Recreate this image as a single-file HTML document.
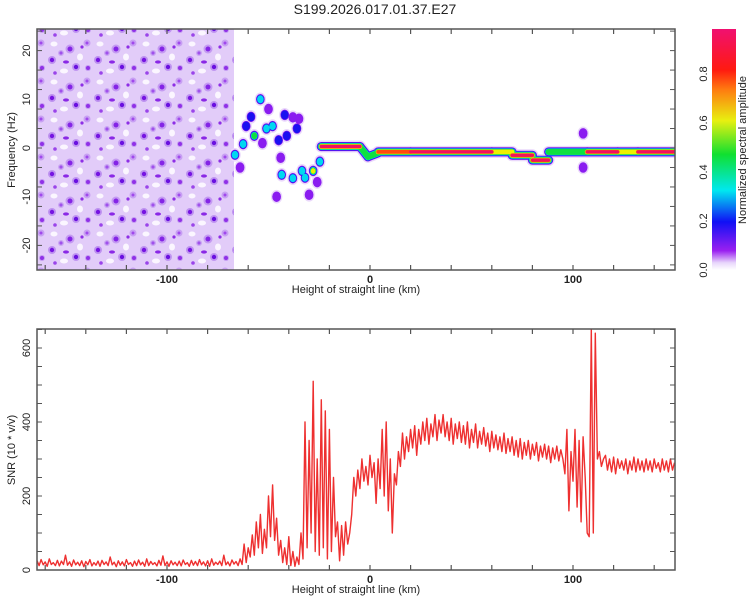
<!DOCTYPE html>
<html><head><meta charset="utf-8"><style>
body{margin:0;background:#fff;}
svg{display:block;font-family:"Liberation Sans",sans-serif;}
</style></head><body>
<svg id="chart" width="750" height="600" viewBox="0 0 750 600">
<defs>
<clipPath id="clipTop"><rect x="37" y="29" width="638" height="241"/></clipPath>
<clipPath id="clipBot"><rect x="37" y="329" width="638" height="241"/></clipPath>
<linearGradient id="cbar" x1="0" y1="1" x2="0" y2="0">
<stop offset="0" stop-color="#ffffff"/>
<stop offset="0.03" stop-color="#e8d6fb"/>
<stop offset="0.08" stop-color="#9a20f0"/>
<stop offset="0.2" stop-color="#1010f5"/>
<stop offset="0.33" stop-color="#00e8f0"/>
<stop offset="0.48" stop-color="#10e030"/>
<stop offset="0.62" stop-color="#e8f010"/>
<stop offset="0.75" stop-color="#ff7a10"/>
<stop offset="0.83" stop-color="#ff1a10"/>
<stop offset="1" stop-color="#f01070"/>
</linearGradient>
<pattern id="noise" width="46" height="38" patternUnits="userSpaceOnUse">
<rect width="46" height="38" fill="#e2ccf9"/>
<ellipse cx="8" cy="6" rx="3.5" ry="2.5" fill="#fbf6ff"/>
<ellipse cx="34" cy="19" rx="3" ry="3.5" fill="#fbf6ff"/>
<ellipse cx="18" cy="33" rx="4" ry="2.5" fill="#fbf6ff"/>
<circle cx="24" cy="11" r="4.5" fill="#c49af2"/>
<circle cx="6" cy="22" r="4" fill="#be92f0"/>
<circle cx="41" cy="5" r="3.5" fill="#c8a0f3"/>
<circle cx="30" cy="29" r="4" fill="#c096f1"/>
<circle cx="42" cy="30" r="3" fill="#c49cf2"/>
<circle cx="15" cy="15" r="3" fill="#caa6f3"/>
<circle cx="24" cy="11" r="2.5" fill="#8424e6"/>
<circle cx="6" cy="22" r="2.2" fill="#7614e2"/>
<circle cx="42" cy="30" r="2" fill="#9030e8"/>
<circle cx="15" cy="15" r="1.6" fill="#a050ec"/>
<circle cx="36" cy="9" r="1.6" fill="#8e2ee6"/>
<circle cx="30" cy="29" r="2.2" fill="#6a10e0"/>
<circle cx="9" cy="35" r="1.8" fill="#9a44ea"/>
<ellipse cx="20" cy="24" rx="3" ry="1.6" fill="#8a28e6"/>
<circle cx="41" cy="5" r="1.5" fill="#a048ec"/>
</pattern>
</defs>

<text x="375" y="14" font-size="14" text-anchor="middle" fill="#222">S199.2026.017.01.37.E27</text>

<g id="top">
<g clip-path="url(#clipTop)">
<rect x="37" y="29" width="197" height="241" fill="url(#noise)"/>
<g id="heat"></g>
</g>
<rect x="37" y="29" width="638" height="241" fill="none" stroke="#555" stroke-width="1.5"/>
<g id="topTicks"></g>
<text x="356" y="293" font-size="11" text-anchor="middle" fill="#222">Height of straight line (km)</text>
<text transform="translate(15,150) rotate(-90)" font-size="11" text-anchor="middle" fill="#222">Frequency (Hz)</text>
</g>

<g id="colorbar">
<rect x="712" y="29" width="24" height="241" fill="url(#cbar)"/>
<g id="cbTicks"></g>
<text transform="translate(746,150) rotate(-90)" font-size="11" text-anchor="middle" fill="#222">Normalized spectral amplitude</text>
</g>

<g id="bot">
<g clip-path="url(#clipBot)"><polyline id="snrLine" fill="none" stroke="#ee3030" stroke-width="1.4" stroke-linejoin="round"/></g>
<rect x="37" y="329" width="638" height="241" fill="none" stroke="#555" stroke-width="1.5"/>
<g id="botTicks"></g>
<text x="356" y="593" font-size="11" text-anchor="middle" fill="#222">Height of straight line (km)</text>
<text transform="translate(15,450) rotate(-90)" font-size="11" text-anchor="middle" fill="#222">SNR (10 * v/v)</text>
</g>
</svg>
<script>
const NS="http://www.w3.org/2000/svg";
const xTicks=[-100,0,100];
const freqTicks=[-20,-10,0,10,20];
const snrTicks=[0,200,400,600];
const cbTicks=[0.0,0.2,0.4,0.6,0.8];
const snrStartKm=-164;
const snrValues=[25,12,28,14,22,10,30,15,20,12,
26,11,24,15,40,13,22,10,27,14,
21,12,25,9,23,14,28,11,20,13,
24,10,26,15,22,12,35,14,21,9,
25,13,22,11,28,15,20,10,24,12,
27,14,21,10,30,12,23,15,20,11,
26,13,38,12,22,10,25,14,21,12,
24,11,27,15,20,10,26,13,23,12,
28,14,22,11,25,10,30,13,21,15,
24,12,40,14,22,11,27,16,23,12,
30,15,70,20,60,35,95,40,130,60,
150,45,110,60,200,90,230,80,140,40,
80,20,60,15,90,12,50,10,35,15,
100,30,400,60,350,100,510,50,300,40,
460,60,430,30,380,50,250,90,130,25,
120,40,130,70,100,150,250,200,270,220,
300,240,280,230,310,250,290,180,300,220,
380,200,400,160,300,100,260,230,320,280,
370,300,360,320,380,330,390,310,380,340,
400,350,410,340,395,360,420,350,405,370,
420,360,400,350,410,340,395,355,400,345,
390,340,400,330,380,345,395,330,375,340,
385,335,370,320,375,330,365,325,360,320,
370,315,355,320,360,310,350,305,355,300,
345,310,350,300,340,310,345,295,335,305,
340,300,335,290,330,300,335,295,325,300,
260,380,160,320,240,380,170,350,130,360,
250,100,90,650,100,640,300,320,280,300,
310,270,300,265,305,260,300,275,295,270,
300,260,295,270,305,265,300,270,295,265,
300,270,295,265,300,275,290,265,300,270,
295,265,300,270,290];
const segKm0=[-24,-5,-1,4,20,60,70,80,88,107,122,132];
const segKm1=[-5,-1,4,20,60,70,80,88,107,122,132,150];
const segF0=[0.3,0.3,-1.8,-0.8,-0.8,-0.8,-1.5,-2.5,-0.8,-0.8,-0.8,-0.8];
const segF1=[0.3,-1.8,-1.0,-0.8,-0.8,-0.8,-1.5,-2.5,-0.8,-0.8,-0.8,-0.8];
const segAmp=[1.0,0.5,0.55,0.85,1.0,0.6,1.0,1.0,0.5,1.0,0.6,1.0];
const blobKm=[-66.5,-62.5,-61,-58.6,-57,-54,-51,-48,-45,-42,-38,-36,-41,-43.5,-38,-33.5,-32,-28,-24.7,-46,-30,105,105,-50,-44,-35,-26,-64,-53];
const blobFreq=[-1.4,0.8,4.5,6.4,2.5,10,4,4.5,1.6,6.8,6.3,4,2.5,-5.5,-6.2,-4.7,-6.1,-4.7,-2.8,-10,-9.6,3,-4,8,-2,6,-7,-4,1];
const blobAmp=[0.35,0.3,0.25,0.25,0.45,0.3,0.35,0.3,0.25,0.2,0.15,0.2,0.2,0.3,0.3,0.3,0.3,0.6,0.35,0.15,0.15,0.15,0.15,0.12,0.1,0.12,0.1,0.12,0.1];

const xS=km=>370+km*2.03;
const fy=f=>148-f*4.87;
const sy=v=>570-v*0.37;
const levels=[0.05,0.1,0.18,0.28,0.42,0.6,0.75,0.9];
const lvColor=["#ead8fb","#8a1cf0","#1a10f0","#00d8f0","#10e040","#eef000","#ff4a10","#f01060"];
const lvHalf=[6,4.6,4,3.5,3,2.4,1.9,1.5];
const blobScale=0.95;

const heat=document.getElementById('heat');
for(let l=0;l<levels.length;l++){
  for(let i=0;i<segKm0.length;i++){
    if(segAmp[i]<levels[l])continue;
    const ln=document.createElementNS(NS,'line');
    ln.setAttribute('x1',xS(segKm0[i]));ln.setAttribute('x2',xS(segKm1[i]));
    ln.setAttribute('y1',fy(segF0[i]));ln.setAttribute('y2',fy(segF1[i]));
    ln.setAttribute('stroke',lvColor[l]);ln.setAttribute('stroke-width',lvHalf[l]*2);
    ln.setAttribute('stroke-linecap','round');
    
    
    heat.appendChild(ln);
  }
  for(let i=0;i<blobKm.length;i++){
    if(blobAmp[i]<levels[l])continue;
    const c=document.createElementNS(NS,'ellipse');
    c.setAttribute('cx',xS(blobKm[i]));c.setAttribute('cy',fy(blobFreq[i]));
    c.setAttribute('rx',lvHalf[l]*blobScale);c.setAttribute('ry',lvHalf[l]*blobScale*1.2);
    c.setAttribute('fill',lvColor[l]);
    
    
    heat.appendChild(c);
  }
}

let pts=[];
for(let i=0;i<snrValues.length;i++){pts.push(xS(snrStartKm+i).toFixed(1)+','+sy(snrValues[i]).toFixed(1));}
document.getElementById('snrLine').setAttribute('points',pts.join(' '));

function mk(parent,tag,attrs,txt){const e=document.createElementNS(NS,tag);for(const k in attrs)e.setAttribute(k,attrs[k]);if(txt!==undefined)e.textContent=txt;parent.appendChild(e);return e;}
function xAxis(g,top,bottom){
  for(let km=-160;km<=150;km+=20){
    const x=xS(km);
    let t=mk(g,'line',{x1:x,x2:x,y1:top,y2:top+5,stroke:'#555','stroke-width':1.2});
    
    t=mk(g,'line',{x1:x,x2:x,y1:bottom,y2:bottom-5,stroke:'#555','stroke-width':1.2});
    
  }
  for(const v of xTicks){
    const t=mk(g,'text',{x:xS(v),y:bottom+13,'font-size':11,'font-weight':'bold','text-anchor':'middle',fill:'#222'},String(v));
    
  }
}
const tt=document.getElementById('topTicks'),bt=document.getElementById('botTicks');
xAxis(tt,29,270);xAxis(bt,329,570);
for(let f=-24;f<=24;f+=4){const y=fy(f);
  let t=mk(tt,'line',{x1:37,x2:42,y1:y,y2:y,stroke:'#555'});
  t=mk(tt,'line',{x1:675,x2:670,y1:y,y2:y,stroke:'#555'});}
for(const f of freqTicks){const t=mk(tt,'text',{transform:`translate(30,${fy(f)}) rotate(-90)`,'font-size':11,'text-anchor':'middle',fill:'#222'},String(f));
  }
for(let v=0;v<=650;v+=50){const y=sy(v);
  let t=mk(bt,'line',{x1:37,x2:42,y1:y,y2:y,stroke:'#555'});
  t=mk(bt,'line',{x1:675,x2:670,y1:y,y2:y,stroke:'#555'});}
for(const v of snrTicks){const t=mk(bt,'text',{transform:`translate(30,${sy(v)}) rotate(-90)`,'font-size':11,'text-anchor':'middle',fill:'#222'},String(v));
  }
const cb=document.getElementById('cbTicks');
for(const v of cbTicks){const y=270-v*245;const t=mk(cb,'text',{transform:`translate(707,${y}) rotate(-90)`,'font-size':11,'text-anchor':'middle',fill:'#222'},v.toFixed(1));
  }
</script>
</body></html>
